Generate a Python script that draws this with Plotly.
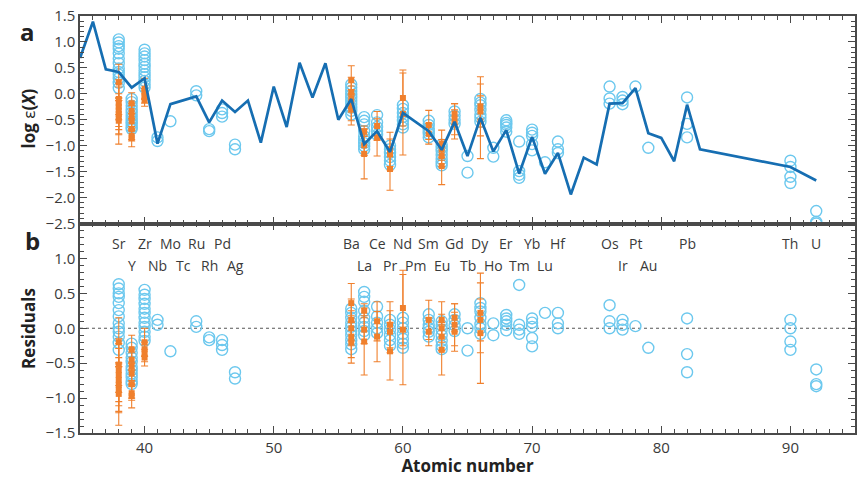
import plotly.graph_objects as go

# ---- model (line) abundances, log eps(X) ----
model_z = [35, 36, 37, 38, 39, 40, 41, 42, 44, 45, 46, 47, 48, 49, 50, 51, 52, 53, 54,
           55, 56, 57, 58, 59, 60, 62, 63, 64, 65, 66, 67, 68, 69, 70, 71, 72, 73, 74,
           75, 76, 77, 78, 79, 80, 81, 82, 83, 90, 92]
model_val = [0.69, 1.39, 0.47, 0.42, 0.12, 0.30, -0.96, -0.20, -0.05, -0.55, -0.13, -0.35,
             -0.13, -0.94, 0.14, -0.64, 0.60, -0.07, 0.59, -0.50, -0.10, -0.97, -0.72,
             -1.12, -0.37, -0.72, -1.08, -0.54, -1.20, -0.46, -1.11, -0.70, -1.54, -0.83,
             -1.54, -1.14, -1.94, -1.23, -1.36, -0.19, -0.18, 0.11, -0.76, -0.85, -1.30,
             -0.21, -1.07, -1.41, -1.67]

# ---- blue circles: residuals (observed - model) ----
circ_z = ([38] * 13 + [39] * 11 + [40] * 12 + [41] * 2 + [42] + [44] * 2 + [45] * 2 +
          [46] * 3 + [47] * 2 + [56] * 10 + [57] * 9 + [58] * 5 + [59] * 6 + [60] * 7 +
          [62] * 6 + [63] * 7 + [64] * 4 + [65] * 2 + [66] * 7 + [67] * 2 + [68] * 5 +
          [69] * 4 + [70] * 5 + [71] + [72] * 3 + [76] * 3 + [77] * 3 + [78] + [79] +
          [82] * 3 + [90] * 4 + [92] * 3)
circ_resid = [
    0.63, 0.57, 0.50, 0.45, 0.36, 0.26, 0.17, 0.07, 0.00, -0.05, -0.12, -0.21, -0.31,   # Sr
    -0.22, -0.28, -0.35, -0.42, -0.48, -0.55, -0.60, -0.65, -0.70, -0.76, -0.80,       # Y
    0.55, 0.48, 0.42, 0.35, 0.28, 0.22, 0.15, 0.08, 0.02, -0.05, -0.12, -0.18,         # Zr
    0.12, 0.05,            # Nb
    -0.33,                 # Mo
    0.10, 0.02,            # Ru
    -0.13, -0.17,          # Rh
    -0.17, -0.24, -0.31,   # Pd
    -0.63, -0.72,          # Ag
    0.28, 0.22, 0.15, 0.08, 0.02, -0.04, -0.10, -0.17, -0.23, -0.30,   # Ba
    0.52, 0.45, 0.38, 0.25, 0.15, 0.08, 0.02, -0.04, -0.10,            # La
    0.31, 0.17, 0.08, 0.00, -0.07,                                      # Ce
    0.12, 0.05, -0.02, -0.10, -0.17, -0.25,                             # Pr
    0.15, 0.08, 0.00, -0.08, -0.15, -0.22, -0.28,                       # Nd
    0.20, 0.12, 0.05, 0.00, -0.05, -0.12,                               # Sm
    0.10, 0.04, -0.02, -0.10, -0.18, -0.25, -0.30,                      # Eu
    0.20, 0.12, 0.04, -0.04,                                            # Gd
    0.00, -0.32,                                                        # Tb
    0.36, 0.29, 0.24, 0.15, 0.06, 0.00, -0.08,                          # Dy
    0.07, -0.10,                                                        # Ho
    0.19, 0.14, 0.10, 0.05, -0.03,                                      # Er
    0.62, 0.05, -0.02, -0.08,                                           # Tm
    0.14, 0.08, 0.02, -0.14, -0.26,                                     # Yb
    0.22,                                                               # Lu
    0.22, 0.07, 0.00,                                                   # Hf
    0.33, 0.10, 0.00,                                                   # Os
    0.12, 0.05, -0.02,                                                  # Ir
    0.03,                                                               # Pt
    -0.28,                                                              # Au
    0.14, -0.37, -0.63,                                                 # Pb
    0.12, 0.00, -0.19, -0.31,                                           # Th
    -0.59, -0.80, -0.83,                                                # U
]

# ---- orange squares: residuals and errors ----
sq_z = ([38] * 8 + [39] * 7 + [40] * 4 + [56] * 5 + [57] * 3 + [58] * 2 + [59] * 3 +
        [60] * 2 + [62] * 2 + [63] * 4 + [64] * 3 + [66] * 3)
sq_resid = [
    -0.20, -0.52, -0.60, -0.67, -0.74, -0.81, -0.88, -0.94,   # Sr
    -0.30, -0.45, -0.55, -0.65, -0.80, -0.93, -0.97,          # Y
    -0.20, -0.30, -0.36, -0.42,                               # Zr
    0.36, 0.12, 0.00, -0.12, -0.20,                           # Ba
    0.25, -0.02, -0.19,                                       # La
    0.10, -0.12,                                              # Ce
    0.05, -0.05, -0.33,                                       # Pr
    0.29, -0.02,                                              # Nd
    0.12, -0.05,                                              # Sm
    0.12, 0.00, -0.12, -0.31,                                 # Eu
    0.15, 0.05, -0.05,                                        # Gd
    0.22, 0.12, -0.07,                                        # Dy
]
sq_err = [
    0.35, 0.30, 0.45, 0.25, 0.45, 0.30, 0.33, 0.45,
    0.20, 0.15, 0.20, 0.15, 0.20, 0.10, 0.17,
    0.20, 0.10, 0.12, 0.12,
    0.28, 0.30, 0.25, 0.30, 0.30,
    0.10, 0.20, 0.48,
    0.28, 0.36,
    0.33, 0.30, 0.41,
    0.54, 0.79,
    0.28, 0.20,
    0.26, 0.20, 0.20, 0.36,
    0.20, 0.30, 0.28,
    0.57, 0.30, 0.72,
]

# ---- tick values ----
top_yticks = [-2.5, -2.0, -1.5, -1.0, -0.5, 0.0, 0.5, 1.0, 1.5]
bot_yticks = [-1.5, -1.0, -0.5, 0.0, 0.5, 1.0]
x_ticks = [40, 50, 60, 70, 80, 90]

# ---- element labels ----
row1_z = [38, 40, 42, 44, 46, 56, 58, 60, 62, 64, 66, 68, 70, 72, 76, 78, 82, 90, 92]
row1_txt = ["Sr", "Zr", "Mo", "Ru", "Pd", "Ba", "Ce", "Nd", "Sm", "Gd", "Dy", "Er",
            "Yb", "Hf", "Os", "Pt", "Pb", "Th", "U"]
row2_z = [39, 41, 43, 45, 47, 57, 59, 61, 63, 65, 67, 69, 71, 77, 79]
row2_txt = ["Y", "Nb", "Tc", "Rh", "Ag", "La", "Pr", "Pm", "Eu", "Tb", "Ho", "Tm", "Lu",
            "Ir", "Au"]

mlookup = dict(zip(model_z, model_val))
circ_abs = [mlookup[z] + r for z, r in zip(circ_z, circ_resid)]
sq_abs = [mlookup[z] + r for z, r in zip(sq_z, sq_resid)]

BLUE_C = "rgb(108,200,238)"
ORANGE = "rgb(240,128,45)"
LINE_C = "rgb(22,110,178)"
FONT = "Open Sans"
TXT = "#3a3a3a"

W, H = 862, 477
L, R, T, B = 80, 5, 13, 44

fig = go.Figure()

circ_marker = dict(symbol="circle-open", size=11, color=BLUE_C, line=dict(width=1.4, color=BLUE_C))
sq_marker = dict(symbol="square", size=6, color=ORANGE)
err_style = dict(type="data", symmetric=True, color=ORANGE, thickness=1.1, width=3.5)

# top panel
fig.add_trace(go.Scatter(x=circ_z, y=circ_abs, mode="markers", marker=circ_marker,
                         xaxis="x", yaxis="y", showlegend=False))
fig.add_trace(go.Scatter(x=sq_z, y=sq_abs, mode="markers", marker=sq_marker,
                         error_y=dict(array=sq_err, **err_style),
                         xaxis="x", yaxis="y", showlegend=False))
fig.add_trace(go.Scatter(x=model_z, y=model_val, mode="lines",
                         line=dict(color=LINE_C, width=2.7),
                         xaxis="x", yaxis="y", showlegend=False))

# bottom panel
fig.add_trace(go.Scatter(x=circ_z, y=circ_resid, mode="markers", marker=circ_marker,
                         xaxis="x2", yaxis="y2", showlegend=False))
fig.add_trace(go.Scatter(x=sq_z, y=sq_resid, mode="markers", marker=sq_marker,
                         error_y=dict(array=sq_err, **err_style),
                         xaxis="x2", yaxis="y2", showlegend=False))

ph = H - T - B
pw = W - L - R
split = 211 / ph

axis_common = dict(showline=True, linecolor="#4a4a4a", linewidth=1.5, mirror="allticks",
                   ticks="inside", ticklen=7, tickwidth=1.3, tickcolor="#4a4a4a",
                   showgrid=False, zeroline=False, ticklabeloverflow="allow",
                   tickfont=dict(family=FONT, size=15, color=TXT))
minor_style = dict(ticklen=4, ticks="inside", tickcolor="#4a4a4a", tickwidth=1)

fig.update_layout(
    width=W, height=H,
    margin=dict(l=L, r=R, t=T, b=B),
    plot_bgcolor="white", paper_bgcolor="white",
    xaxis=dict(range=[35, 95], anchor="y", showticklabels=False, tickvals=x_ticks,
               minor=dict(dtick=1, tick0=0, **minor_style), **axis_common),
    yaxis=dict(range=[-2.5, 1.5], domain=[split, 1], anchor="x", tickvals=top_yticks,
               tickformat=".1f", minor=dict(dtick=0.1, tick0=0, **minor_style), **axis_common),
    xaxis2=dict(range=[35, 95], anchor="y2", matches="x", tickvals=x_ticks,
                minor=dict(dtick=1, tick0=0, **minor_style),
                title=dict(text="<b>Atomic number</b>", font=dict(family=FONT, size=17, color="#222"),
                           standoff=2),
                **axis_common),
    yaxis2=dict(range=[-1.5, 1.5], domain=[0, split], anchor="x2",
                tickvals=bot_yticks, tickformat=".1f",
                minor=dict(dtick=0.1, tick0=0, **minor_style), **axis_common),
)

# zero line in residual panel
fig.add_shape(type="line", xref="x2 domain", yref="y2", x0=0, x1=1, y0=0, y1=0,
              line=dict(color="#555", width=1.2, dash="dot"), layer="below")

ann = []
for z, t in zip(row1_z, row1_txt):
    ann.append(dict(x=z, y=1.21, xref="x2", yref="y2", text=t, showarrow=False,
                    font=dict(family=FONT, size=14, color=TXT)))
for z, t in zip(row2_z, row2_txt):
    ann.append(dict(x=z, y=0.90, xref="x2", yref="y2", text=t, showarrow=False,
                    font=dict(family=FONT, size=14, color=TXT)))


def px(xp):
    return (xp - L) / pw


def py(yp):
    return 1 - (yp - T) / ph


side = dict(xref="paper", yref="paper", xanchor="center", yanchor="middle", showarrow=False)
ann.append(dict(x=px(27), y=py(29), text="<b>a</b>",
                font=dict(family=FONT, size=24, color="#222"), **side))
ann.append(dict(x=px(32), y=py(239), text="<b>b</b>",
                font=dict(family=FONT, size=24, color="#222"), **side))
ann.append(dict(x=px(28), y=py(116), text="<b>log </b>ε<b>(<i>X</i>)</b>", textangle=-90,
                font=dict(family=FONT, size=17, color="#222"), **side))
ann.append(dict(x=px(29), y=py(328), text="<b>Residuals</b>", textangle=-90,
                font=dict(family=FONT, size=17, color="#222"), **side))
fig.update_layout(annotations=ann)

# remove the default page margin so the figure fills the window exactly
fig.write_html("out.html", config={"displayModeBar": False},
               post_script="document.body.style.margin='0px';")
